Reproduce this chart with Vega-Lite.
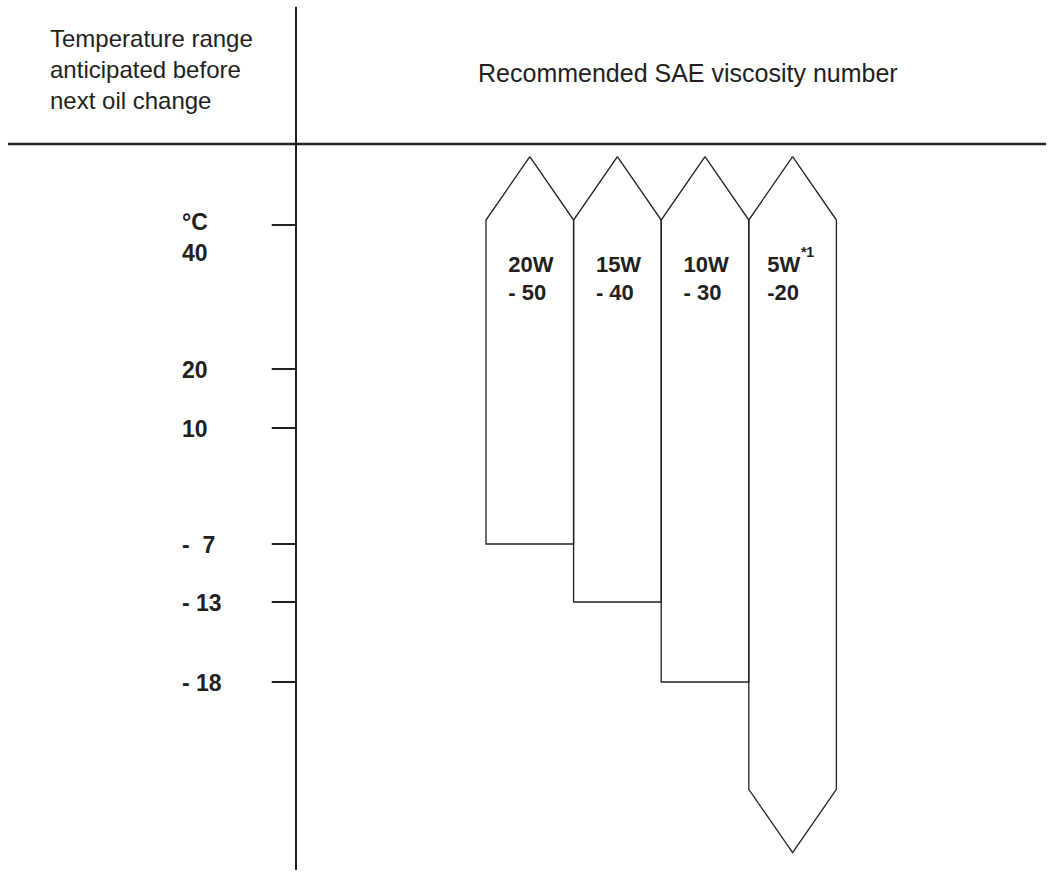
{
  "$schema": "https://vega.github.io/schema/vega-lite/v6.json",
  "width": 1054,
  "height": 873,
  "padding": 0,
  "autosize": {"type": "none"},
  "background": "white",
  "config": {"view": {"stroke": null}, "text": {"font": "Liberation Sans", "fill": "#231f20"}},
  "data": {"values": [{}]},
  "datasets": {
    "ticks": [
      {"t": 40, "label": "40"},
      {"t": 20, "label": "20"},
      {"t": 10, "label": "10"},
      {"t": -7, "label": "\u00a0-\u00a0\u00a07"},
      {"t": -13, "label": "\u00a0-\u00a013"},
      {"t": -18, "label": "\u00a0-\u00a018"}
    ],
    "arrows": [
      {"grade": "20W-50", "x": 1, "t": 49.49, "o": 1},
      {"grade": "20W-50", "x": 1.5, "t": 40.69, "o": 2},
      {"grade": "20W-50", "x": 1.5, "t": -7, "o": 3},
      {"grade": "20W-50", "x": 0.5, "t": -7, "o": 4},
      {"grade": "20W-50", "x": 0.5, "t": 40.69, "o": 5},
      {"grade": "20W-50", "x": 1, "t": 49.49, "o": 6},
      {"grade": "15W-40", "x": 2, "t": 49.49, "o": 1},
      {"grade": "15W-40", "x": 2.5, "t": 40.69, "o": 2},
      {"grade": "15W-40", "x": 2.5, "t": -13, "o": 3},
      {"grade": "15W-40", "x": 1.5, "t": -13, "o": 4},
      {"grade": "15W-40", "x": 1.5, "t": 40.69, "o": 5},
      {"grade": "15W-40", "x": 2, "t": 49.49, "o": 6},
      {"grade": "10W-30", "x": 3, "t": 49.49, "o": 1},
      {"grade": "10W-30", "x": 3.5, "t": 40.69, "o": 2},
      {"grade": "10W-30", "x": 3.5, "t": -18, "o": 3},
      {"grade": "10W-30", "x": 2.5, "t": -18, "o": 4},
      {"grade": "10W-30", "x": 2.5, "t": 40.69, "o": 5},
      {"grade": "10W-30", "x": 3, "t": 49.49, "o": 6},
      {"grade": "5W-20", "x": 4, "t": 49.49, "o": 1},
      {"grade": "5W-20", "x": 4.5, "t": 40.69, "o": 2},
      {"grade": "5W-20", "x": 4.5, "t": -24.71, "o": 3},
      {"grade": "5W-20", "x": 4, "t": -28.67, "o": 4},
      {"grade": "5W-20", "x": 3.5, "t": -24.71, "o": 5},
      {"grade": "5W-20", "x": 3.5, "t": 40.69, "o": 6},
      {"grade": "5W-20", "x": 4, "t": 49.49, "o": 7}
    ],
    "grades": [
      {"col": 1, "label": ["20W", "- 50"]},
      {"col": 2, "label": ["15W", "- 40"]},
      {"col": 3, "label": ["10W", "- 30"]},
      {"col": 4, "label": ["5W", "-20"]}
    ]
  },
  "layer": [
    {
      "mark": {"type": "rule", "stroke": "#231f20", "strokeWidth": 2},
      "encoding": {
        "x": {"datum": -1.669, "type": "quantitative", "scale": {"domain": [-5.048, 6.984], "nice": false, "zero": false}, "axis": null},
        "y": {"datum": 70.3, "type": "quantitative", "scale": {"domain": [40, 20, 10, -7, -13, -18], "range": [225, 369, 428, 544, 602, 682], "nice": false, "zero": false}, "axis": null},
        "y2": {"datum": -29.75}
      }
    },
    {
      "mark": {"type": "rule", "stroke": "#231f20", "strokeWidth": 2.5},
      "encoding": {
        "x": {"datum": -4.957, "type": "quantitative"},
        "x2": {"datum": 6.893},
        "y": {"datum": 51.25, "type": "quantitative"}
      }
    },
    {
      "data": {"name": "ticks"},
      "mark": {"type": "rule", "stroke": "#231f20", "strokeWidth": 2},
      "encoding": {
        "x": {"datum": -1.946, "type": "quantitative"},
        "x2": {"datum": -1.669},
        "y": {"field": "t", "type": "quantitative"}
      }
    },
    {
      "data": {"name": "ticks"},
      "transform": [{"filter": "datum.t != 40"}],
      "mark": {"type": "text", "align": "left", "baseline": "middle", "dy": 2, "fontSize": 23, "fontWeight": "bold"},
      "encoding": {
        "x": {"datum": -2.97, "type": "quantitative"},
        "y": {"field": "t", "type": "quantitative"},
        "text": {"field": "label"}
      }
    },
    {
      "mark": {"type": "text", "align": "left", "baseline": "alphabetic", "fontSize": 23, "fontWeight": "bold", "lineHeight": 30.7, "text": ["°C", "40"]},
      "encoding": {
        "x": {"datum": -2.97, "type": "quantitative"},
        "y": {"datum": 39.31, "type": "quantitative"}
      }
    },
    {
      "mark": {"type": "text", "align": "left", "baseline": "alphabetic", "fontSize": 24, "lineHeight": 31, "text": ["Temperature range", "anticipated before", "next oil change"]},
      "encoding": {
        "x": {"datum": -4.477, "type": "quantitative"},
        "y": {"datum": 64.76, "type": "quantitative"}
      }
    },
    {
      "mark": {"type": "text", "align": "left", "baseline": "alphabetic", "fontSize": 25, "text": "Recommended SAE viscosity number"},
      "encoding": {
        "x": {"datum": 0.409, "type": "quantitative"},
        "y": {"datum": 59.86, "type": "quantitative"}
      }
    },
    {
      "data": {"name": "arrows"},
      "mark": {"type": "line", "stroke": "#231f20", "strokeWidth": 1.3, "strokeJoin": "miter"},
      "encoding": {
        "x": {"field": "x", "type": "quantitative"},
        "y": {"field": "t", "type": "quantitative"},
        "detail": {"field": "grade"},
        "order": {"field": "o", "type": "quantitative"}
      }
    },
    {
      "data": {"name": "grades"},
      "transform": [{"filter": "datum.col < 4"}],
      "mark": {"type": "text", "align": "left", "baseline": "alphabetic", "dx": -21.5, "fontSize": 22, "fontWeight": "bold", "lineHeight": 28},
      "encoding": {
        "x": {"field": "col", "type": "quantitative"},
        "y": {"datum": 33.47, "type": "quantitative"},
        "text": {"field": "label"}
      }
    },
    {
      "data": {"name": "grades"},
      "transform": [{"filter": "datum.col == 4"}],
      "mark": {"type": "text", "align": "left", "baseline": "alphabetic", "dx": -25.4, "fontSize": 22, "fontWeight": "bold", "lineHeight": 28},
      "encoding": {
        "x": {"field": "col", "type": "quantitative"},
        "y": {"datum": 33.47, "type": "quantitative"},
        "text": {"field": "label"}
      }
    },
    {
      "mark": {"type": "text", "align": "left", "baseline": "alphabetic", "fontSize": 14, "fontWeight": "bold", "text": "*1"},
      "encoding": {
        "x": {"datum": 4.095, "type": "quantitative"},
        "y": {"datum": 35.56, "type": "quantitative"}
      }
    }
  ]
}
